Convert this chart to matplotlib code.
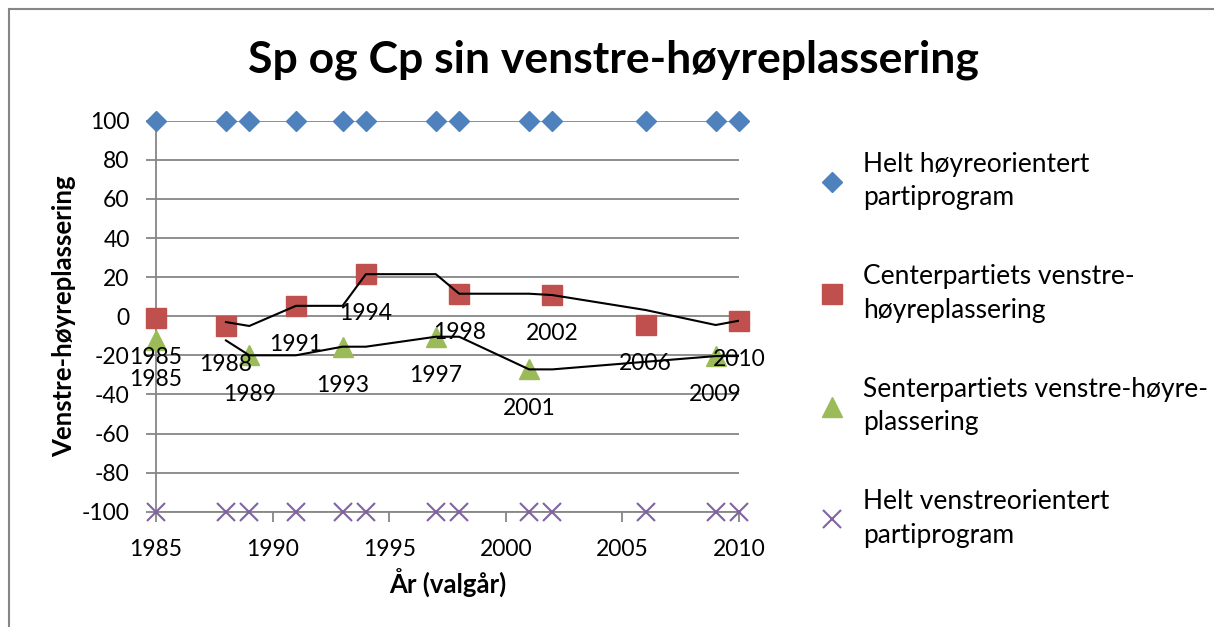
import matplotlib
matplotlib.use("Agg")
import matplotlib.pyplot as plt
from matplotlib.lines import Line2D

# ---- data ----
all_years = [1985, 1988, 1989, 1991, 1993, 1994, 1997, 1998, 2001, 2002, 2006, 2009, 2010]
right_vals = [100] * len(all_years)
left_vals = [-100] * len(all_years)

cp_years = [1985, 1988, 1991, 1994, 1998, 2002, 2006, 2010]
cp_vals = [-1, -5, 5.3, 21.5, 11.5, 10.8, -4.5, -2.3]

sp_years = [1985, 1989, 1993, 1997, 2001, 2009]
sp_vals = [-12.4, -20, -15.6, -10.5, -27.2, -20.4]

labels = ["Helt høyreorientert\npartiprogram",
          "Centerpartiets venstre-\nhøyreplassering",
          "Senterpartiets venstre-høyre-\nplassering",
          "Helt venstreorientert\npartiprogram"]

title = "Sp og Cp sin venstre-høyreplassering"
xlabel = "År (valgår)"
ylabel = "Venstre-høyreplassering"
xticks = [1985, 1990, 1995, 2000, 2005, 2010]
yticks = list(range(-100, 101, 20))


def moving_avg(years, vals, union):
    """Excel-style 2-period moving average over the union of x values (blanks skipped)."""
    lookup = dict(zip(years, vals))
    seq = [lookup.get(y) for y in union]
    xs, ys = [], []
    for i in range(1, len(union)):
        w = [v for v in (seq[i - 1], seq[i]) if v is not None]
        if w:
            xs.append(union[i])
            ys.append(sum(w) / len(w))
    return xs, ys


plt.rcParams['font.family'] = ['Lato', 'DejaVu Sans']
plt.rcParams['axes.unicode_minus'] = False
FS = 16.5
LFS = 19
AFS = 18.5
W, H = 1214, 627
fig = plt.figure(figsize=(W / 100, H / 100), dpi=100)

# axes placement (pixels)
x0, x1 = 156, 739
y0, y1 = 120.7, 511.7
ax = fig.add_axes([x0 / W, 1 - y1 / H, (x1 - x0) / W, (y1 - y0) / H])
ax.set_xlim(1985, 2010)
ax.set_ylim(-100, 100)

grid_c = "#868686"
for s in ["top", "right"]:
    ax.spines[s].set_visible(False)
for s in ["left", "bottom"]:
    ax.spines[s].set_color(grid_c)
    ax.spines[s].set_linewidth(1.3)
ax.set_xticks(xticks)
ax.set_yticks(yticks)
ax.tick_params(axis='both', colors=grid_c, labelcolor='black', labelsize=FS,
               length=7, width=1.3, direction='out')
ax.tick_params(axis='x', pad=13)
ax.tick_params(axis='y', pad=12)
ax.yaxis.grid(True, color=grid_c, linewidth=1.3)
ax.set_axisbelow(True)

blue, red, green, purple = "#4F81BD", "#C0504D", "#9BBB59", "#8064A2"

h1, = ax.plot(all_years, right_vals, linestyle='none', marker='D', ms=10.5,
              color=blue, clip_on=False, zorder=4)
h2, = ax.plot(cp_years, cp_vals, linestyle='none', marker='s', ms=14.5,
              color=red, clip_on=False, zorder=4)
h3, = ax.plot(sp_years, sp_vals, linestyle='none', marker='^', ms=14.5,
              color=green, clip_on=False, zorder=4)
h4, = ax.plot(all_years, left_vals, linestyle='none', marker='x', ms=13,
              mew=1.5, color=purple, clip_on=False, zorder=4)

# moving average trendlines
for yrs, vals in [(cp_years, cp_vals), (sp_years, sp_vals)]:
    mx, my = moving_avg(yrs, vals, all_years)
    ax.plot(mx, my, color='black', linewidth=1.5, zorder=5)

# data labels (x values) below the points
for yrs, vals in [(cp_years, cp_vals), (sp_years, sp_vals)]:
    for x, y in zip(yrs, vals):
        ax.annotate(str(x), (x, y), xytext=(0, -28), textcoords='offset points',
                    ha='center', va='center', fontsize=FS, zorder=6,
                    annotation_clip=False)

ax.set_xlabel(xlabel, fontsize=AFS, fontweight='bold', labelpad=6)
ax.set_ylabel(ylabel, fontsize=AFS, fontweight='bold', labelpad=4)

fig.text(613 / W, 1 - 60 / H, title, ha='center', va='center',
         fontsize=32, fontweight='bold')

leg = fig.legend([h1, h2, h3, h4], labels, loc='upper left',
                 bbox_to_anchor=(816 / W, 1 - 152 / H), frameon=False,
                 fontsize=LFS, labelspacing=2.05, handletextpad=0.58,
                 handlelength=1.2, borderaxespad=0, borderpad=0)
for t in leg.get_texts():
    t.set_linespacing(1.42)

# chart area border (left and top visible)
fig.add_artist(Line2D([9 / W, 9 / W], [0, 1 - 9 / H], transform=fig.transFigure,
                      color=grid_c, linewidth=1.5))
fig.add_artist(Line2D([9 / W, 1], [1 - 9 / H, 1 - 9 / H], transform=fig.transFigure,
                      color=grid_c, linewidth=1.5))

fig.savefig("out.png", dpi=100)
